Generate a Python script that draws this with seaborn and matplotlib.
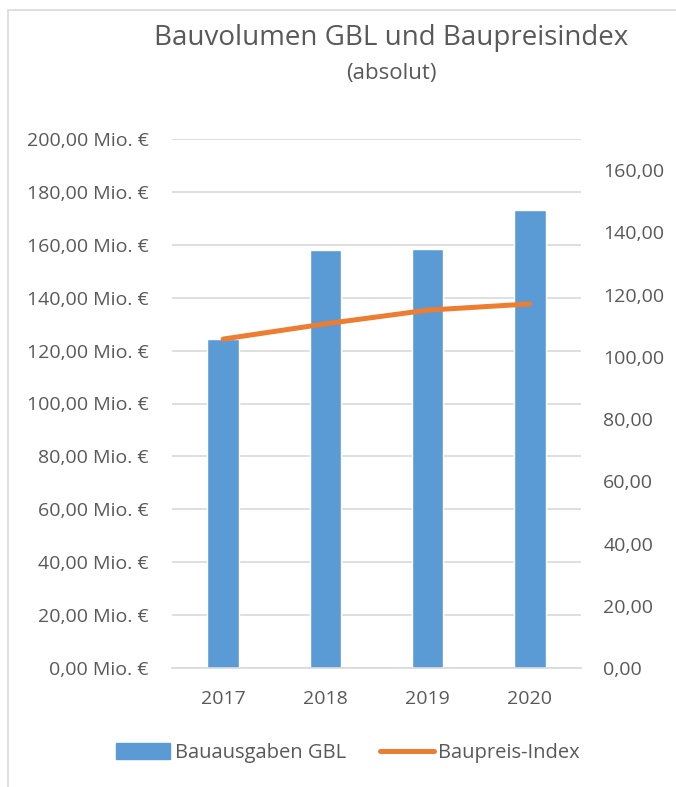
import matplotlib
matplotlib.use("Agg")
import matplotlib.pyplot as plt
import seaborn as sns
import numpy as np
import pandas as pd
from matplotlib.patches import Patch, Rectangle
from matplotlib.lines import Line2D

years = ["2017", "2018", "2019", "2020"]
bauausgaben = [124.3, 158.1, 158.5, 173.2]
baupreis_index = [105.7, 110.6, 115.0, 117.0]
left_ticks = [0, 20, 40, 60, 80, 100, 120, 140, 160, 180, 200]
right_ticks = [0, 20, 40, 60, 80, 100, 120, 140, 160]

BLUE = "#5B9BD5"
ORANGE = "#ED7D31"
TXT = "#595959"
GRID = "#D9D9D9"

sns.set_theme(style="white")
plt.rcParams["font.family"] = ["Open Sans", "DejaVu Sans"]
FS = 14

W, H = 676, 787
fig = plt.figure(figsize=(W / 100, H / 100), dpi=100)
ax = fig.add_axes([172 / W, 1 - 668 / H, (581 - 172) / W, (668 - 139) / H])

df = pd.DataFrame({"Jahr": years, "Bauausgaben": bauausgaben, "Index": baupreis_index})
sns.barplot(data=df, x="Jahr", y="Bauausgaben", color=BLUE, width=0.31,
            saturation=1, ax=ax, zorder=2)
ax.set_ylim(0, 200)
ax.set_yticks(left_ticks)
ax.set_yticklabels([f"{v:.2f}".replace(".", ",") + " Mio. €" for v in left_ticks])
ax.grid(axis="y", color=GRID, lw=1.2, zorder=0)
ax.set_axisbelow(True)
ax.set_xlabel("")
ax.set_ylabel("")
for s in ["top", "right", "left"]:
    ax.spines[s].set_visible(False)
ax.spines["bottom"].set_color(GRID)
ax.spines["bottom"].set_linewidth(1.2)
ax.tick_params(axis="both", length=0, labelsize=FS, colors=TXT)
ax.tick_params(axis="y", pad=17)
ax.tick_params(axis="x", pad=16)

ax2 = ax.twinx()
sns.lineplot(data=df, x="Jahr", y="Index", color=ORANGE, lw=3.6, ax=ax2,
             solid_capstyle="round", sort=False)
ax2.set_ylim(0, 170)
ax2.set_yticks(right_ticks)
ax2.set_yticklabels([f"{v:.2f}".replace(".", ",") for v in right_ticks])
ax2.set_ylabel("")
for s in ["top", "right", "left", "bottom"]:
    ax2.spines[s].set_visible(False)
ax2.tick_params(axis="y", length=0, labelsize=FS, colors=TXT, pad=16)
ax.set_xlim(-0.5, 3.5)

fig.text(391 / W, 1 - 38 / H, "Bauvolumen GBL und Baupreisindex", ha="center",
         va="center", fontsize=20, color=TXT)
fig.text(391 / W, 1 - 73 / H, "(absolut)", ha="center", va="center",
         fontsize=16, color=TXT)

handles = [Patch(facecolor=BLUE, edgecolor=BLUE),
           Line2D([0], [0], color=ORANGE, lw=3.6, solid_capstyle="round")]
leg = fig.legend(handles, ["Bauausgaben GBL", "Baupreis-Index"], loc="center",
                 bbox_to_anchor=(348 / W, 1 - 753 / H), ncol=2, frameon=False,
                 fontsize=14.5, handlelength=2.7, handleheight=0.8,
                 handletextpad=0.2, columnspacing=1.7)
for t in leg.get_texts():
    t.set_color(TXT)

fig.patches.append(Rectangle((8 / W, -0.01), 1.0, 1 - 10 / H + 0.01,
                             transform=fig.transFigure, fill=False,
                             edgecolor=GRID, lw=1.2))

fig.savefig("out.png", dpi=100)
